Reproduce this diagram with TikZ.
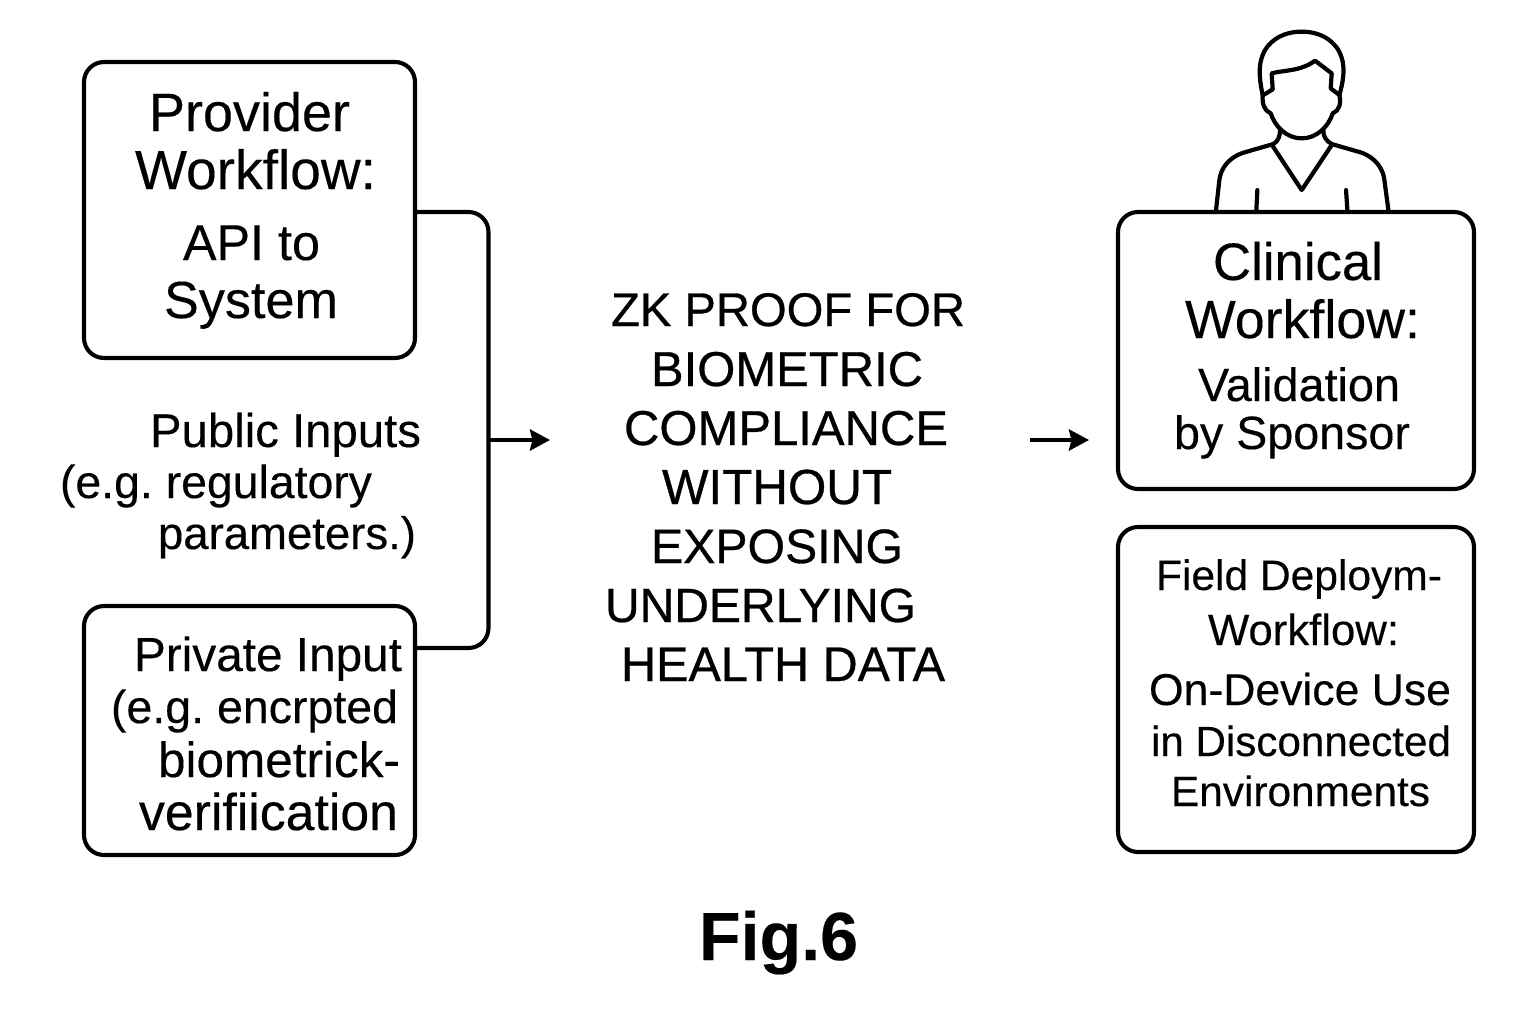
\documentclass[tikz,border=0pt]{standalone}
\usepackage{fontspec}
\usepackage{graphicx}
\setmainfont{Liberation Sans}
\newfontfamily\heavyfont[FakeBold=0.25]{Liberation Sans}
\newfontfamily\midfont[FakeBold=0.6]{Liberation Sans}
\usetikzlibrary{arrows.meta}
\newcommand{\fitline}[4]{% left, right, baseline, text
  \pgfmathsetmacro{\fitw}{(#2-(#1))*0.5}%
  \pgfmathsetmacro{\fitc}{((#1)+(#2))/2}%
  \node[textline] at (\fitc,#3) {\resizebox{\fitw pt}{!}{#4}};}
\tikzset{
  box/.style={draw=black,line width=2.05pt,rounded corners=10pt,fill=none,inner sep=0pt,outer sep=0pt},
  textline/.style={anchor=base,inner sep=0pt,outer sep=0pt,text=black,font=\fontsize{25pt}{25pt}\heavyfont},
  wire/.style={draw=black,line width=2.05pt,rounded corners=10pt},
  flow/.style={draw=black,line width=2.05pt,-{Stealth[length=10pt,width=10.5pt,inset=1.2pt]}},
  figure outline/.style={draw=black,line width=2.1pt,line join=round,line cap=round}
}
\begin{document}
\begin{tikzpicture}[x=0.5pt,y=-0.5pt]
\useasboundingbox (0,0) rectangle (1536,1024);
\fill[white] (0,0) rectangle (1536,1024);
% boxes
\node[box,minimum width=165.5pt,minimum height=148pt] (provider) at (249.5,210) {};
\node[box,minimum width=165.5pt,minimum height=124.5pt] (private) at (249.5,730.5) {};
\node[box,minimum width=178pt,minimum height=138.5pt] (clinical) at (1296,350.5) {};
\node[box,minimum width=178pt,minimum height=162.5pt] (field) at (1296,689.5) {};
% connectors
\coordinate (provout) at (provider.east |- 0,212);
\coordinate (privout) at (private.east |- 0,648);
\coordinate (hub) at (488.5,440);
\coordinate (zkin) at (550,440);
\coordinate (zkout) at (1030,440);
\coordinate (clin) at (1089,440);
\draw[wire] (provout) -- (hub |- provout) -- (hub |- privout) -- (privout);
\draw[flow] (hub) -- (zkin);
\draw[flow] (zkout) -- (clin);
% left texts
\fitline{149}{350}{131}{Provider}
\fitline{135}{376}{189}{Workflow:}
\fitline{183}{320}{260}{API to}
\fitline{164}{338}{318}{System}
\fitline{150}{421}{447}{Public Inputs}
\fitline{60}{372}{498}{(e.g.\hspace{-0.09em} regulatory}
\fitline{158}{416}{549}{parameters.)}
\fitline{134}{402}{671}{Private Input}
\fitline{111}{398}{723}{(e.g.\hspace{-0.09em} encrpted}
\fitline{158}{400}{777}{biometrick-}
\fitline{139}{398}{830}{verifiication}
% centre
\fitline{611}{965}{326}{\midfont ZK PROOF FOR}
\fitline{651}{923}{386}{\midfont BIOMETRIC}
\fitline{624}{948}{445}{\midfont COMPLIANCE}
\fitline{662}{892}{504}{\midfont WITHOUT}
\fitline{651}{903}{563}{\midfont EXPOSING}
\fitline{605}{916}{622}{\midfont UNDERLYING}
\fitline{621}{945}{681}{\midfont HEALTH DATA}
% right
\fitline{1213}{1383}{280}{Clinical}
\fitline{1185}{1420}{338}{Workflow:}
\fitline{1198}{1400}{401}{Validation}
\fitline{1174}{1410}{449}{by Sponsor}
\fitline{1156}{1442}{590}{Field Deploym-}
\fitline{1208}{1399}{645}{Workflow:}
\fitline{1149}{1451}{705}{On-Device Use}
\fitline{1151}{1451}{756}{in Disconnected}
\fitline{1171}{1430}{806}{Environments}
\fitline{699}{858}{960}{\bfseries Fig.6}
% person
\begin{scope}[shift={(1180,20)},x=0.1667pt,y=-0.1667pt]
\draw[figure outline] (248,225) .. controls (236,170) and (232,120) .. (262,80) .. controls (290,45) and (330,35) .. (365,35) .. controls (400,35) and (440,45) .. (468,80) .. controls (498,120) and (494,170) .. (478,225);
\draw[figure outline] (250,225) -- (278,208) -- (275,160) .. controls (310,150) and (360,155) .. (405,122) -- (455,160) -- (452,205) -- (478,225);
\draw[figure outline] (248,225) .. controls (246,250) and (252,272) .. (272,280) .. controls (285,320) and (320,355) .. (365,355) .. controls (410,355) and (445,320) .. (458,280) .. controls (478,272) and (484,250) .. (478,225);
\draw[figure outline] (300,328) .. controls (300,350) and (295,362) .. (280,372) -- (190,398) .. controls (140,415) and (122,450) .. (118,480) -- (108,570);
\draw[figure outline] (430,332) .. controls (430,350) and (438,362) .. (455,372) -- (545,398) .. controls (590,415) and (610,450) .. (613,480) -- (625,570);
\draw[figure outline] (278,378) -- (365,510) -- (455,375);
\draw[figure outline] (232,510) -- (229,570);
\draw[figure outline] (498,510) -- (502,570);
\end{scope}
\end{tikzpicture}
\end{document}
